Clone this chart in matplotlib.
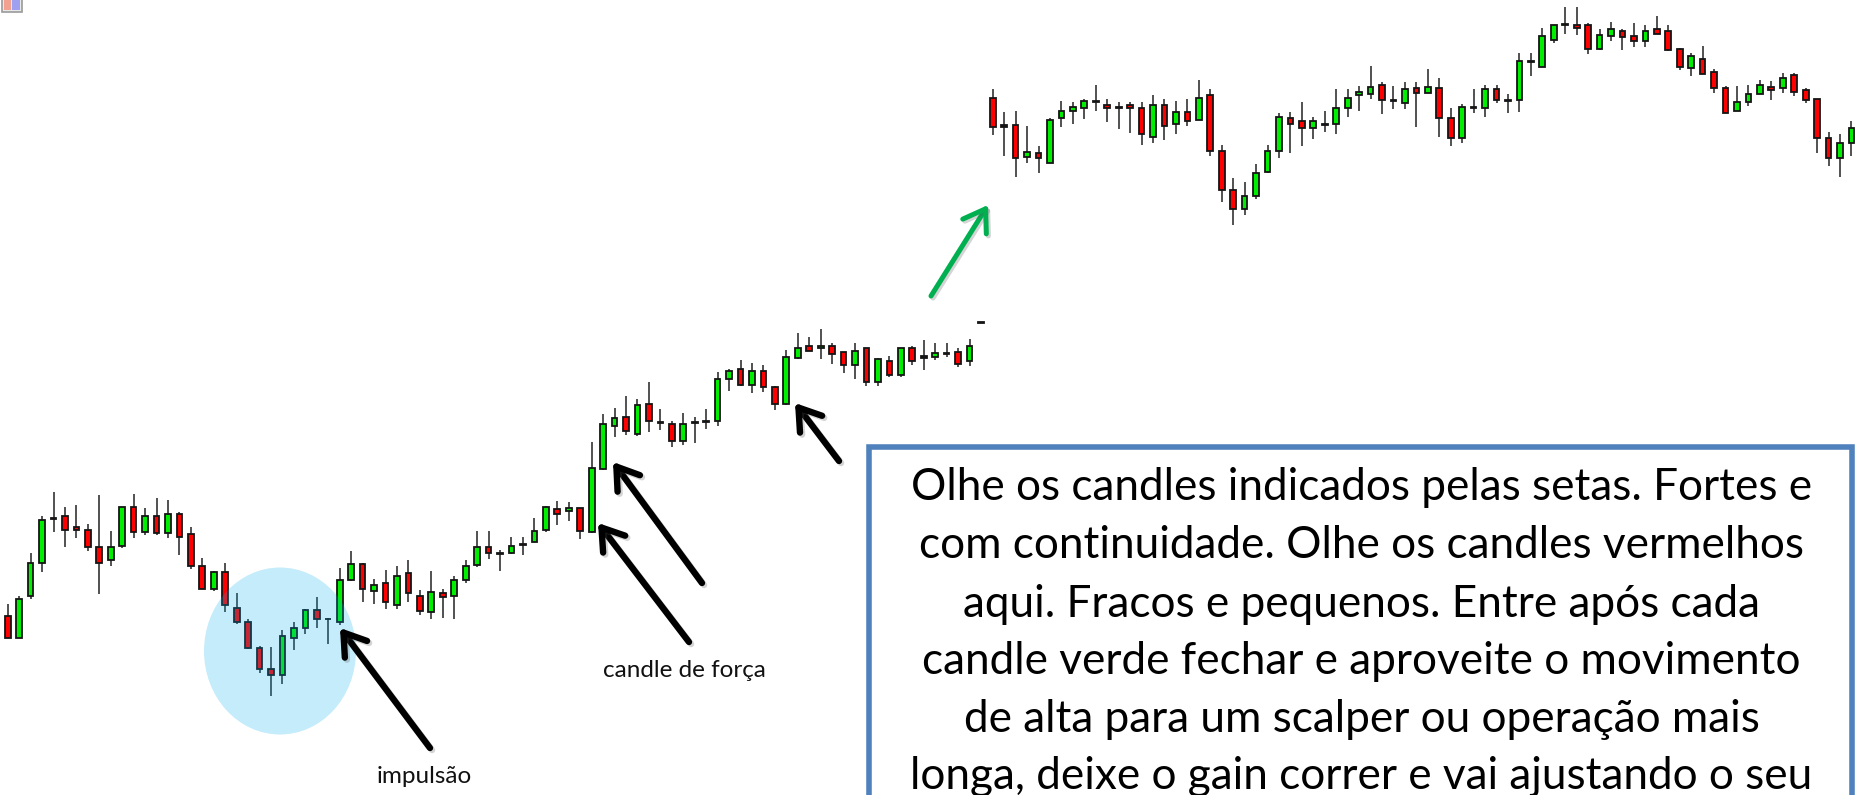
import matplotlib
matplotlib.use('Agg')
import matplotlib.pyplot as plt
import matplotlib.patheffects as pe
from matplotlib.patches import Ellipse, Rectangle

plt.rcParams['font.family'] = ['Lato', 'DejaVu Sans']

# candles (price axis is in picture rows, top = 0)
left_high = [604.3, 595.7, 552.7, 515.7, 492.3, 506.7, 505.3, 524, 495, 531,
             507, 493.7, 508.3, 498, 499.7, 512.3, 526.7, 558.3, 570.7, 562.7,
             592.7, 618.7, 646, 647.3, 630.3, 621.7, 608.7, 597, 617.7, 568.3,
             551.3, 563.3, 578.7, 569.7, 565.7, 560, 590, 571.3, 588.7, 575.7,
             560, 531, 531, 550, 537, 537, 518.3, 505.7, 500.7, 502.3,
             507.7, 442.3, 414.3, 407.7, 396, 398.7, 381.7, 409, 421, 413.3,
             416.7, 409, 371.7, 369.3, 360.3, 363, 364.7, 386, 350.3, 332.7,
             337.3, 328.7, 343.3, 352, 343, 347.7, 358, 356.3, 347.7, 346.3,
             340.3, 343, 343, 347.7, 338.7, 322]
left_top = [616, 599, 563, 520, 518.3, 515.7, 527, 530, 547.3, 547.3,
            507, 507, 515.7, 515.7, 514.3, 514.3, 534.3, 566, 571.7, 571.7,
            607.7, 622, 647.7, 669.3, 636.3, 627.7, 610.3, 610.3, 618.7, 580.3,
            564.3, 564.3, 584.7, 583, 576, 573, 596, 591.7, 593.3, 580.3,
            566, 547, 547, 553.3, 546, 544.3, 531.3, 507, 508.7, 508.3,
            508.3, 468.3, 423.7, 418, 416.7, 405, 403.7, 422.3, 424, 424,
            422, 421, 379.3, 370.7, 369.3, 370.7, 370.7, 386.7, 356.7, 347.7,
            346.3, 346.3, 346.3, 352, 350.7, 347.7, 359.3, 360.7, 347.7, 347.7,
            356.3, 353.3, 353, 352, 346.3, 322]
left_bot = [638, 638, 596, 563.3, 518.7, 530, 530.3, 547.3, 563.3, 560.3,
            546, 531.7, 531.7, 533, 533, 537.3, 566, 588.7, 588.7, 604.7,
            622, 648, 669.3, 675, 675, 637.7, 627.7, 619, 619, 621.7,
            580.3, 589, 590.7, 602, 604.7, 593.3, 610.7, 612, 597.3, 596,
            580.3, 564.7, 553, 554, 553, 544.7, 541.7, 530.3, 514.3, 511.3,
            531.3, 531.7, 468.7, 425.7, 431.3, 434, 421, 423.3, 441, 441.3,
            422.7, 422.3, 421, 379.3, 385.3, 385.3, 386.7, 404, 404.3, 358,
            350.7, 347.7, 353.7, 365, 365, 382.3, 382.3, 375.3, 375.3, 360.7,
            357.7, 356.7, 353.7, 363.7, 360.7, 322.5]
left_low = [638, 638, 599.3, 572, 532, 546.7, 538, 550.7, 593.7, 566.3,
            547.7, 538, 535, 535, 537.7, 555, 569.3, 588.7, 590.7, 612.3,
            623.7, 649.3, 672.7, 695.7, 684.3, 649.7, 633.7, 628.3, 644, 625.3,
            581, 602.3, 603.7, 609.3, 609.3, 602.3, 615.3, 619.3, 618, 619.3,
            583.3, 566.7, 559.3, 570.7, 553.7, 555, 542.3, 531.7, 525, 520.7,
            539, 533, 469.5, 437.3, 434.7, 435.7, 431.7, 430, 447.3, 444.7,
            443, 428.7, 426, 391.3, 386, 393, 391.7, 410.3, 405.3, 358.7,
            351.3, 358.7, 364, 372.7, 378.7, 386, 386, 377, 377, 365.3,
            370, 360, 357, 367, 365.7, 322.5]
left_color = list('rggg' + 'krrrr' + 'g' + 'grgrgrrrgr'
                  + 'rrrrggg' + 'rkg' + 'g' + 'rgrgrrgrg' + 'ggrkgkggrg'
                  + 'rgggrgrkrgkkggrgrrggrgrrgrgrgrkgkrg' + 'k')

right_high = [89, 112, 110.7, 126.3, 146.3, 117.7, 100.7, 102, 99.3, 84.7,
              99.3, 102.3, 102.3, 102.3, 94.7, 99, 100.7, 99, 80.3, 89.3,
              145, 178, 182.3, 163.7, 145, 113.3, 112, 102, 116.7, 110.7,
              89, 89, 86.3, 66, 82, 86.3, 82, 82, 69, 77.7,
              107.7, 104.3, 89, 84.7, 84.7, 93.7, 52.7, 52.7, 28.3, 24.7,
              7.3, 7.3, 23.3, 28.7, 21.7, 28.7, 23, 24.7, 15.7, 24.7,
              47.7, 53.3, 46, 69, 86, 86.3, 84.7, 80.3, 80.7, 73.3,
              73.3, 88.3, 99.3, 132, 133.7, 120.7]
right_top = [98, 125.3, 125.3, 152.3, 152.7, 119.7, 111, 106.7, 100.7, 101,
             105, 106.7, 105, 108, 105, 105, 112.3, 112.3, 98, 95,
             151, 190, 195.7, 172.7, 151, 116.7, 118.3, 121, 121, 124,
             108.3, 98, 92.3, 86.7, 85, 99.7, 89.3, 88, 86.7, 88,
             118.3, 106.7, 106.7, 89.3, 89.3, 99.7, 60.7, 60.5, 36.3, 24.7,
             24.3, 24.7, 25, 35, 29.3, 30.7, 36.3, 30.7, 29.3, 30.7,
             49.3, 56.3, 59.3, 72.3, 88, 102.3, 94, 85.3, 86.7, 78,
             75.3, 89.7, 99.3, 138, 142.7, 128.3]
right_bot = [127, 126.7, 158.3, 157.3, 158.3, 162.7, 118.3, 111, 108, 102.3,
             108.3, 108, 108.3, 134, 137, 125.7, 124, 121.3, 119.7, 151.3,
             190, 208.7, 208.7, 195.7, 171.7, 151.3, 124, 128.3, 128.3, 125.3,
             124, 108.3, 95.3, 94, 99.7, 101, 102.7, 92.7, 92.7, 118.3,
             138.3, 138.3, 108.3, 108.3, 99.7, 101, 99.7, 62, 66.7, 39.7,
             25.3, 28, 49.3, 49.3, 36.3, 36.7, 40.7, 40.7, 33.7, 49.7,
             66.7, 68.3, 73.7, 88, 112.7, 111, 102.3, 94, 89.7, 88,
             92.3, 99.7, 138.3, 158.3, 158.3, 142.7]
right_low = [134.7, 156, 177.3, 163.3, 173.3, 163, 127.3, 124.3, 118.7, 111.3,
             121.7, 128.7, 133, 144.7, 143.3, 140.3, 134.3, 126, 120, 156,
             202, 225, 215, 199.3, 173.3, 157.7, 153, 146, 138.7, 131.7,
             134.3, 117.3, 111.3, 98.7, 114.3, 108.7, 108.7, 127.3, 92.7, 137.3,
             146, 143.3, 113, 117.3, 103, 113, 111.7, 76, 67, 43,
             34, 35.3, 54, 50, 41, 49.7, 47, 47, 34, 51,
             69.7, 75.7, 74, 93, 113, 111.3, 105.7, 94.3, 100, 93,
             95.7, 102.7, 153, 166, 177.3, 156]
right_color = list('rkrgrgggg' + 'k' + 'rkrrgrgrgr' + 'rrgggg' + 'rrgkggg' + 'g'
                   + 'rkgrgrrgkgrkgkgg' + 'krrggrrgrr' + 'rgrrrgggrgrrrrgg')

label_impulso = 'impulsão'
label_candle = 'candle de força'
box_lines = ['Olhe os candles indicados pelas setas. Fortes e',
             'com continuidade. Olhe os candles vermelhos',
             'aqui. Fracos e pequenos. Entre após cada',
             'candle verde fechar e aproveite o movimento',
             'de alta para um scalper ou operação mais',
             'longa, deixe o gain correr e vai ajustando o seu']
box_baselines = [500, 558, 617, 674, 732, 789]

palette = {'r': '#ff0000', 'g': '#00ee00', 'k': '#111111'}


def draw_candles(ax, x0, high, top, bot, low, color):
    xs = [x0 + i * 11.45 for i in range(len(high))]
    heights = [b - t for t, b in zip(top, bot)]
    faces = [palette[c] for c in color]
    ax.vlines(xs, high, low, color='#2a2a2a', lw=1.15, zorder=2)
    ax.bar(xs, heights, bottom=top, width=5.7, color=faces, edgecolor='#151515',
           linewidth=1.3, zorder=3)


def draw_arrow(ax, tip, tail, color, lw):
    a = ax.annotate('', xy=tip, xytext=tail, zorder=6,
                    arrowprops=dict(arrowstyle='->,head_length=1.5,head_width=1.0',
                                    color=color, lw=lw, mutation_scale=10,
                                    shrinkA=0, shrinkB=0))
    a.arrow_patch.set_path_effects([
        pe.SimpleLineShadow(offset=(1.5, -1.5), shadow_color='#555555', alpha=0.25),
        pe.Normal()])


fig = plt.figure(figsize=(18.72, 7.95), dpi=100)
ax = fig.add_axes([0, 0, 1, 1])
ax.set_xlim(0, 1872)
ax.set_ylim(795, 0)
ax.axis('off')

draw_candles(ax, 7.7, left_high, left_top, left_bot, left_low, left_color)
draw_candles(ax, 992.7, right_high, right_top, right_bot, right_low, right_color)

ax.add_patch(Ellipse((280, 651), 152, 167, color='#00aeef', alpha=0.23, lw=0, zorder=4))

draw_arrow(ax, (340, 628), (430, 748), 'black', 4.6)
draw_arrow(ax, (598, 523), (689, 642), 'black', 4.6)
draw_arrow(ax, (613, 462), (702, 583), 'black', 4.6)
draw_arrow(ax, (795, 403), (839, 461), 'black', 4.6)
draw_arrow(ax, (988, 205), (931, 296), '#00b050', 3.6)

ax.text(424, 783, label_impulso, fontsize=17.5, ha='center', va='baseline', color='#111111')
ax.text(684, 677, label_candle, fontsize=17.5, ha='center', va='baseline', color='#111111')

ax.add_patch(Rectangle((869, 447), 983, 400, facecolor='white', edgecolor='#4f81bd',
                       lw=4, zorder=5))
for line, base in zip(box_lines, box_baselines):
    ax.text(1361.5, base, line, fontsize=31.8, ha='center', va='baseline',
            color='black', zorder=7)

# little icon in the corner
ax.add_patch(Rectangle((2, -2), 20, 14, facecolor='#e8e8e8', edgecolor='#9a9a9a', lw=1.2, zorder=3))
ax.add_patch(Rectangle((4, 0), 7, 10, facecolor='#f2a090', lw=0, zorder=4))
ax.add_patch(Rectangle((12, 0), 8, 10, facecolor='#a0a0f0', lw=0, zorder=4))

fig.savefig('out.png', dpi=100)
